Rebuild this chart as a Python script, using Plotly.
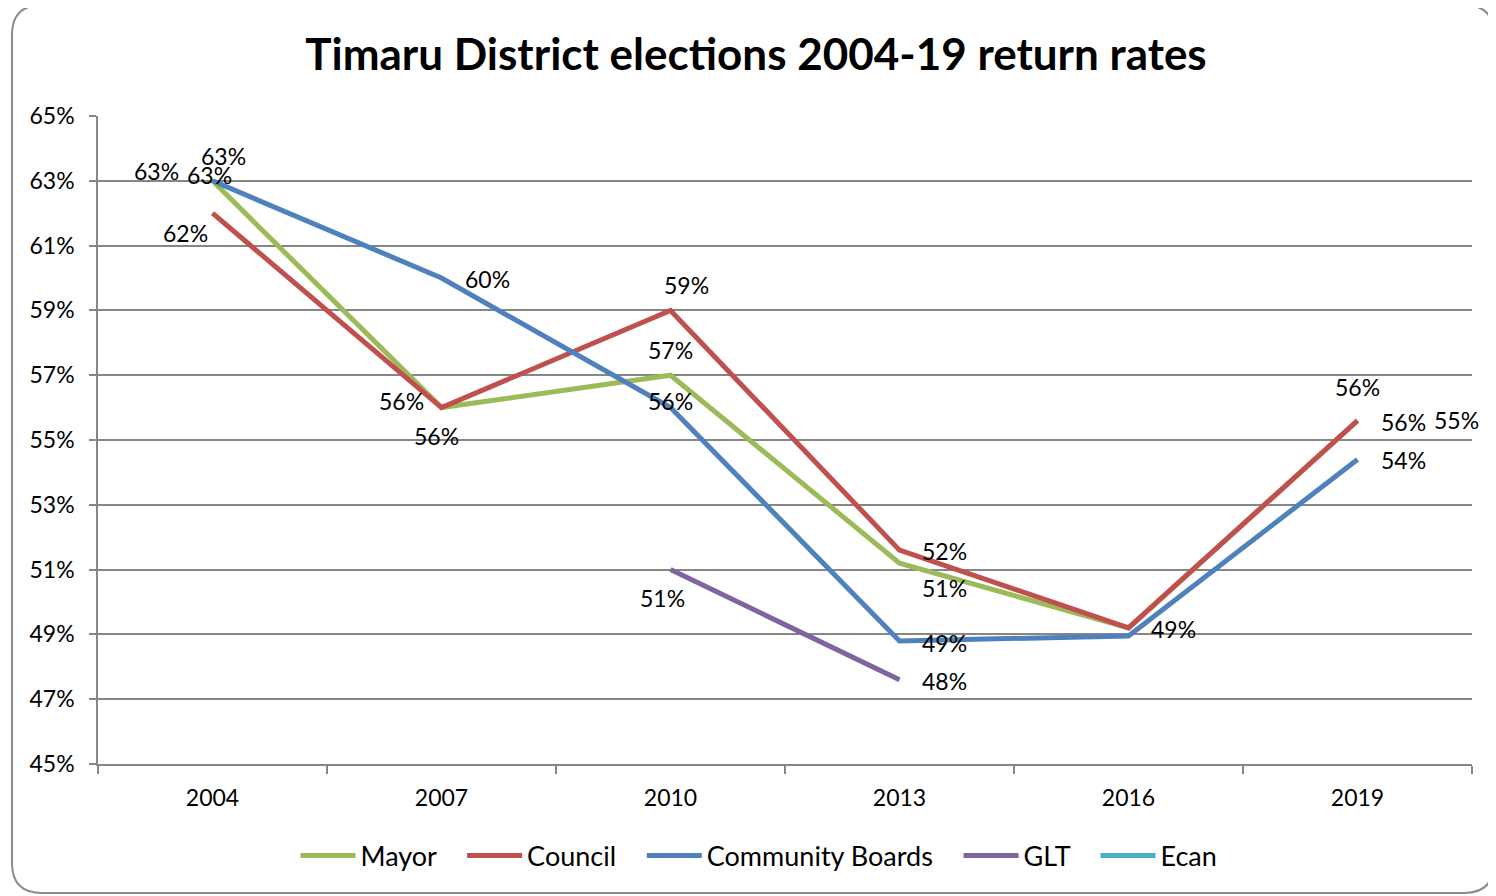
import plotly.graph_objects as go

years = ["2004", "2007", "2010", "2013", "2016", "2019"]
mayor = [63.0, 56.0, 57.0, 51.2, 49.2, 55.6]
council = [62.0, 56.0, 59.0, 51.6, 49.2, 55.6]
community = [63.0, 60.0, 56.0, 48.8, 48.95, 54.4]
glt = [None, None, 51.0, 47.6, None, None]
ecan = [63.0, None, None, None, None, 55.0]

series = [
    ("Mayor", mayor, "#9BBB59"),
    ("Council", council, "#C0504D"),
    ("Community Boards", community, "#4F81BD"),
    ("GLT", glt, "#8064A2"),
    ("Ecan", ecan, "#4BACC6"),
]

# label offsets (pixels) per series per year index
label_offsets = {
    "Mayor": {0: (-56, 10), 1: (-40, 7), 2: (0, 25), 3: (45, -25), 4: (45, -1), 5: (0, 34)},
    "Council": {0: (-27, -20), 1: (-5, -28), 2: (16, 25), 3: (45, -1), 5: (46, -1)},
    "Community Boards": {0: (-3, 6), 1: (46, -1), 2: (0, 7), 3: (45, -2), 5: (46, -1)},
    "GLT": {2: (-8, -28), 3: (45, -1)},
    "Ecan": {0: (11, 25), 5: (99, 20)},
}

FONT = "Lato"
OFF = 8  # page body margin
GAP = "\u00a0\u00a0\u00a0"

fig = go.Figure()
annotations = []
for k, (name, vals, color) in enumerate(series):
    legend_name = name + (GAP if k < len(series) - 1 else "")
    fig.add_trace(go.Scatter(
        x=years, y=vals, mode="lines", name=legend_name,
        line=dict(color=color, width=5),
        connectgaps=False,
    ))
    for i, v in enumerate(vals):
        if v is None or i not in label_offsets[name]:
            continue
        dx, dy = label_offsets[name][i]
        annotations.append(dict(
            x=i, y=v, xref="x", yref="y",
            text=f"{round(v):d}%", showarrow=False,
            xshift=dx, yshift=dy,
            font=dict(family=FONT, size=23, color="black"),
        ))

W, H = 1496 - OFF, 896 - OFF
L, R, T, B = 98, 1472, 116, 764  # page coords of plot area


def px(xp):
    return (xp - L) / (R - L)


def py(yp):
    return (B - yp) / (B - T)


x0, x1, y0, y1, r = 12, 1494, 5, 893, 30
path = (
    f"M {px(x0 + r)} {py(y0)} L {px(x1 - r)} {py(y0)} "
    f"Q {px(x1)} {py(y0)} {px(x1)} {py(y0 + r)} "
    f"L {px(x1)} {py(y1 - r)} Q {px(x1)} {py(y1)} {px(x1 - r)} {py(y1)} "
    f"L {px(x0 + r)} {py(y1)} Q {px(x0)} {py(y1)} {px(x0)} {py(y1 - r)} "
    f"L {px(x0)} {py(y0 + r)} Q {px(x0)} {py(y0)} {px(x0 + r)} {py(y0)} Z"
)

fig.update_layout(
    width=W, height=H,
    margin=dict(l=L - OFF, r=W - (R - OFF), t=T - OFF, b=H - (B - OFF), autoexpand=False),
    paper_bgcolor="white", plot_bgcolor="white",
    title=dict(
        text="<b>Timaru District elections 2004-19 return rates</b>",
        x=(756 - OFF) / W, xanchor="center", y=1 - (55 - OFF) / H, yanchor="middle",
        font=dict(family=FONT, size=44, color="black"),
    ),
    font=dict(family=FONT, size=23, color="black"),
    xaxis=dict(
        type="category", tickson="boundaries", ticks="outside", ticklen=8,
        tickcolor="#868686", tickwidth=1.5,
        showline=True, linecolor="#868686", linewidth=1.5,
        showgrid=False, tickfont=dict(family=FONT, size=23),
        range=[-0.5, 5.5], ticklabelstandoff=13,
    ),
    yaxis=dict(
        range=[45, 65], dtick=2, tick0=45, ticksuffix="%",
        ticks="outside", ticklen=7, tickcolor="#868686", tickwidth=1.5,
        showline=True, linecolor="#868686", linewidth=1.5,
        showgrid=True, gridcolor="#868686", gridwidth=1.5,
        zeroline=False, tickfont=dict(family=FONT, size=23),
        ticklabelstandoff=10,
    ),
    legend=dict(
        orientation="h", x=px(759), xanchor="center",
        y=py(856), yanchor="middle",
        font=dict(family=FONT, size=27),
        itemwidth=55, traceorder="normal",
    ),
    annotations=annotations,
    shapes=[dict(type="path", path=path, xref="paper", yref="paper",
                 line=dict(color="#8C8C8C", width=2), layer="below")],
    showlegend=True,
)

fig.write_html("out.html")
